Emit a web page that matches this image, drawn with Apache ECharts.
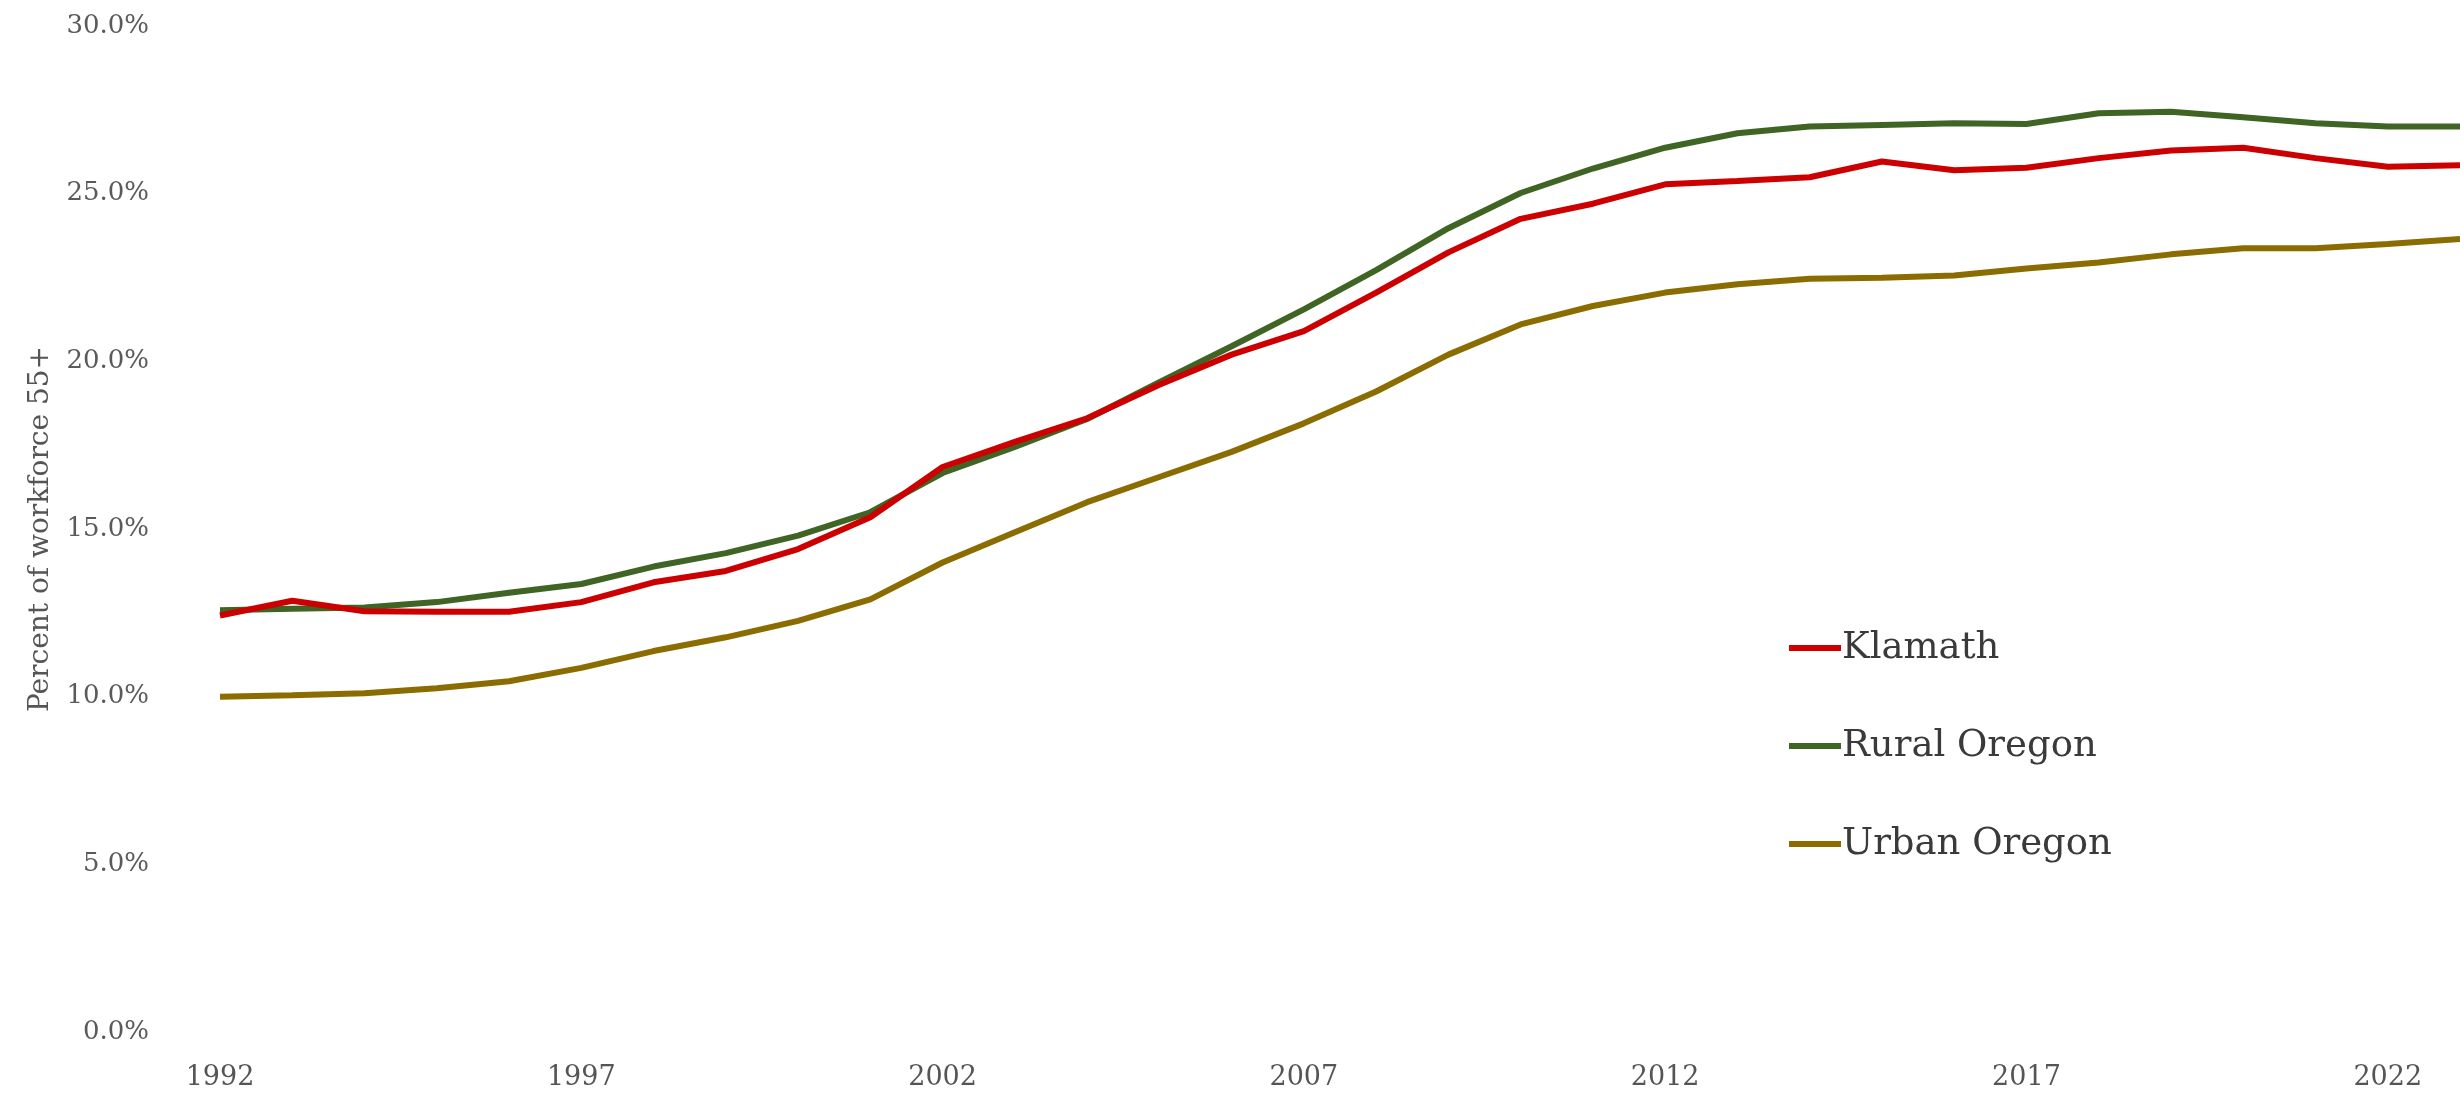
<!DOCTYPE html>
<html>
<head>
<meta charset="utf-8">
<script src="https://cdn.jsdelivr.net/npm/echarts@6/dist/echarts.min.js"></script>
<style>
  html, body { margin: 0; padding: 0; background: #ffffff; }
  #chart { width: 2460px; height: 1096px; }
</style>
</head>
<body>
<div id="chart"></div>
<script>
const years = ['1992','1993','1994','1995','1996','1997','1998','1999','2000','2001','2002','2003','2004','2005','2006','2007','2008','2009','2010','2011','2012','2013','2014','2015','2016','2017','2018','2019','2020','2021','2022','2023'];
const klamath = [12.42,12.86,12.55,12.53,12.53,12.82,13.41,13.75,14.4,15.35,16.85,17.6,18.3,19.3,20.2,20.9,22.05,23.25,24.25,24.7,25.28,25.38,25.49,25.96,25.7,25.77,26.06,26.29,26.37,26.06,25.8,25.85];
const ruralOregon = [12.58,12.62,12.66,12.82,13.1,13.36,13.88,14.28,14.8,15.5,16.67,17.45,18.28,19.38,20.45,21.55,22.72,23.97,25.02,25.75,26.37,26.8,27.0,27.05,27.1,27.08,27.4,27.44,27.28,27.1,27.0,27.0];
const urbanOregon = [10.0,10.04,10.1,10.25,10.46,10.86,11.36,11.77,12.26,12.9,14.0,14.9,15.8,16.55,17.3,18.15,19.1,20.2,21.1,21.65,22.05,22.3,22.46,22.49,22.56,22.77,22.95,23.19,23.37,23.37,23.5,23.65];
const seriesNames = ['Klamath','Rural Oregon','Urban Oregon'];
const yTitle = 'Percent of workforce 55+';

const FONT = 'DejaVu Serif';
const chart = echarts.init(document.getElementById('chart'));
const colors = ['#cc0000','#3f6424','#8a6c00'];

chart.setOption({
  backgroundColor: '#ffffff',
  animation: false,
  color: colors,
  grid: { left: 220, right: -36, top: 26, bottom: 64, containLabel: false },
  legend: {
    data: seriesNames,
    orient: 'vertical',
    left: 1784,
    top: 621,
    icon: 'rect',
    itemWidth: 52,
    itemHeight: 6,
    itemGap: 54,
    textStyle: { fontFamily: FONT, fontSize: 37, color: '#3a3a3a', lineHeight: 44, padding: [0,0,0,-4] }
  },
  xAxis: {
    type: 'category',
    data: years,
    boundaryGap: false,
    axisLine: { show: false },
    axisTick: { show: false },
    splitLine: { show: false },
    axisLabel: { interval: 4, margin: 32, fontFamily: FONT, fontSize: 27, color: '#555555' }
  },
  yAxis: {
    type: 'value',
    min: 0,
    max: 30,
    interval: 5,
    axisLine: { show: false },
    axisTick: { show: false },
    splitLine: { show: false },
    axisLabel: { margin: 71, fontFamily: FONT, fontSize: 26, color: '#5a5a5a', formatter: v => v.toFixed(1) + '%' },
    name: yTitle,
    nameLocation: 'middle',
    nameRotate: 90,
    nameGap: 165,
    nameTextStyle: { fontFamily: FONT, fontSize: 28, color: '#555555' }
  },
  series: [
    { name: seriesNames[0], type: 'line', data: klamath, symbol: 'none', lineStyle: { width: 6, color: colors[0] }, z: 3 },
    { name: seriesNames[1], type: 'line', data: ruralOregon, symbol: 'none', lineStyle: { width: 6, color: colors[1] }, z: 2 },
    { name: seriesNames[2], type: 'line', data: urbanOregon, symbol: 'none', lineStyle: { width: 6, color: colors[2] }, z: 1 }
  ]
});
</script>
</body>
</html>
